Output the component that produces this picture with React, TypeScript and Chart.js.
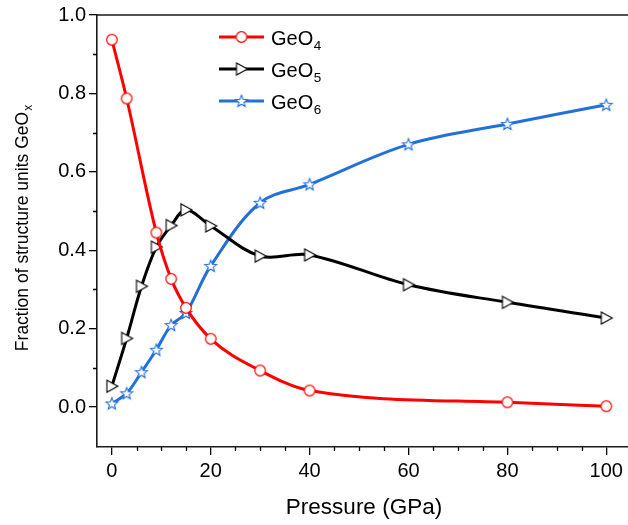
import React, { useEffect, useRef } from "react";
import { Chart, registerables } from "chart.js";

Chart.register(...registerables);

// ---- data ----
const pressureGeO4 = [0, 3, 9, 12, 15, 20, 30, 40, 80, 100];
const fractionGeO4 = [0.937, 0.787, 0.445, 0.327, 0.253, 0.174, 0.093, 0.042, 0.012, 0.002];
const pressureGeO56 = [0, 3, 6, 9, 12, 15, 20, 30, 40, 60, 80, 100];
const fractionGeO5 = [0.053, 0.175, 0.308, 0.408, 0.463, 0.503, 0.462, 0.385, 0.388, 0.312, 0.267, 0.227];
const fractionGeO6 = [0.009, 0.035, 0.089, 0.146, 0.209, 0.24, 0.36, 0.521, 0.568, 0.67, 0.722, 0.771];
const xTickValues = [0, 20, 40, 60, 80, 100];
const xMinorValues = [5, 10, 15, 25, 30, 35, 45, 50, 55, 65, 70, 75, 85, 90, 95];
const yTickValues = [0, 0.2, 0.4, 0.6, 0.8, 1.0];
const yMinorValues = [0.1, 0.3, 0.5, 0.7, 0.9];
const seriesSubscripts = ["4", "5", "6"];
const xTitle = "Pressure (GPa)";
const yTitleMain = "Fraction of structure units GeO";
const yTitleSub = "x";

const RED = "#ff0000";
const BLACK = "#000000";
const BLUE = "#2171d9";
const FONT = "'Liberation Sans', Arial, sans-serif";

function makeCircle(color: string) {
  const c = document.createElement("canvas");
  c.width = 14; c.height = 14;
  const g = c.getContext("2d")!;
  g.beginPath();
  g.arc(7, 7, 5.3, 0, Math.PI * 2);
  g.fillStyle = "#fff"; g.fill();
  g.lineWidth = 1.2; g.strokeStyle = color; g.stroke();
  return c;
}
function makeTriangle(color: string) {
  const c = document.createElement("canvas");
  c.width = 16; c.height = 16;
  const g = c.getContext("2d")!;
  g.beginPath();
  g.moveTo(3, 2); g.lineTo(14, 8); g.lineTo(3, 14); g.closePath();
  g.fillStyle = "#fff"; g.fill();
  g.lineWidth = 1.1; g.strokeStyle = color; g.lineJoin = "miter"; g.stroke();
  return c;
}
function makeStar(color: string) {
  const c = document.createElement("canvas");
  c.width = 16; c.height = 16;
  const g = c.getContext("2d")!;
  const R = 6.2, r = 2.7, cx = 8, cy = 8.5;
  g.beginPath();
  for (let i = 0; i < 10; i++) {
    const a = -Math.PI / 2 + (i * Math.PI) / 5;
    const rad = i % 2 === 0 ? R : r;
    const px = cx + rad * Math.cos(a), py = cy + rad * Math.sin(a);
    if (i === 0) g.moveTo(px, py); else g.lineTo(px, py);
  }
  g.closePath();
  g.fillStyle = "#fff"; g.fill();
  g.lineWidth = 1.1; g.strokeStyle = color; g.stroke();
  return c;
}

export default function App() {
  const ref = useRef<HTMLCanvasElement | null>(null);

  useEffect(() => {
    if (!ref.current) return;
    const circle = makeCircle(RED);
    const tri = makeTriangle(BLACK);
    const star = makeStar(BLUE);
    const markers = [circle, tri, star];
    const colors = [RED, BLACK, BLUE];

    const decorPlugin = {
      id: "decor",
      afterDraw(chart: any) {
        const ctx = chart.ctx as CanvasRenderingContext2D;
        const xs = chart.scales.x, ys = chart.scales.y;
        const area = chart.chartArea;
        ctx.save();
        // frame top & right
        ctx.strokeStyle = "#1a1a1a";
        ctx.lineWidth = 1.6;
        ctx.beginPath();
        ctx.moveTo(area.left, area.top);
        ctx.lineTo(area.right, area.top);
        ctx.lineTo(area.right, area.bottom);
        ctx.stroke();
        // minor ticks
        ctx.strokeStyle = "#000";
        ctx.lineWidth = 1.3;
        ctx.beginPath();
        xMinorValues.forEach((v) => {
          const px = Math.round(xs.getPixelForValue(v)) + 0.5;
          ctx.moveTo(px, area.bottom);
          ctx.lineTo(px, area.bottom + 4);
        });
        yMinorValues.forEach((v) => {
          const py = Math.round(ys.getPixelForValue(v)) + 0.5;
          ctx.moveTo(area.left, py);
          ctx.lineTo(area.left - 4, py);
        });
        ctx.stroke();
        // x title
        ctx.fillStyle = "#000";
        ctx.font = `22.5px ${FONT}`;
        ctx.textAlign = "center";
        ctx.textBaseline = "alphabetic";
        ctx.fillText(xTitle, (area.left + area.right) / 2, 514);
        // y title with subscript
        ctx.save();
        ctx.translate(28, 228);
        ctx.rotate(-Math.PI / 2);
        ctx.textAlign = "left";
        ctx.font = `17.5px ${FONT}`;
        const wMain = ctx.measureText(yTitleMain).width;
        ctx.font = `12px ${FONT}`;
        const wSub = ctx.measureText(yTitleSub).width;
        const start = -(wMain + wSub + 1) / 2;
        ctx.font = `17.5px ${FONT}`;
        ctx.fillText(yTitleMain, start, 0);
        ctx.font = `12px ${FONT}`;
        ctx.fillText(yTitleSub, start + wMain + 1, 4);
        ctx.restore();
        // legend
        const rowsY = [37, 69, 101];
        rowsY.forEach((ry, i) => {
          ctx.strokeStyle = colors[i];
          ctx.lineWidth = 3;
          ctx.beginPath();
          ctx.moveTo(219, ry);
          ctx.lineTo(264, ry);
          ctx.stroke();
          const m = markers[i];
          ctx.drawImage(m, 241.5 - m.width / 2, ry - m.height / 2);
          ctx.fillStyle = "#000";
          ctx.textAlign = "left";
          ctx.font = `20px ${FONT}`;
          ctx.fillText("GeO", 271, ry + 7.5);
          const w = ctx.measureText("GeO").width;
          ctx.font = `13.5px ${FONT}`;
          ctx.fillText(seriesSubscripts[i], 271 + w + 0.5, ry + 12.5);
        });
        ctx.restore();
      },
    };

    const toPts = (xs: number[], ys: number[]) => xs.map((x, i) => ({ x, y: ys[i] }));

    const chart = new Chart(ref.current, {
      type: "line",
      data: {
        datasets: [
          {
            label: "GeO4",
            data: toPts(pressureGeO4, fractionGeO4),
            borderColor: RED,
            borderWidth: 3,
            pointStyle: circle as any,
            pointRadius: 6,
            cubicInterpolationMode: "monotone",
          },
          {
            label: "GeO5",
            data: toPts(pressureGeO56, fractionGeO5),
            borderColor: BLACK,
            borderWidth: 3,
            pointStyle: tri as any,
            pointRadius: 6,
            tension: 0.35,
          },
          {
            label: "GeO6",
            data: toPts(pressureGeO56, fractionGeO6),
            borderColor: BLUE,
            borderWidth: 3,
            pointStyle: star as any,
            pointRadius: 6,
            tension: 0.35,
          },
        ],
      },
      options: {
        animation: false,
        responsive: false,
        devicePixelRatio: 1,
        layout: { padding: { top: 15, right: 7, left: 0, bottom: 0 } },
        plugins: { legend: { display: false }, tooltip: { enabled: false } },
        scales: {
          x: {
            type: "linear",
            min: -3,
            max: 105,
            afterFit: (s: any) => { s.height = 78; },
            afterBuildTicks: (s: any) => { s.ticks = xTickValues.map((v) => ({ value: v })); },
            ticks: {
              font: { family: FONT, size: 20 },
              color: "#000",
              padding: 4,
              maxRotation: 0,
              autoSkip: false,
              callback: (v: any) => String(v),
            },
            grid: { display: true, drawOnChartArea: false, drawTicks: true, tickLength: 8, color: "#000", lineWidth: 1.3 },
            border: { display: true, color: "#1a1a1a", width: 1.6 },
          },
          y: {
            type: "linear",
            min: -0.102,
            max: 1.0,
            afterFit: (s: any) => { s.width = 97; },
            afterBuildTicks: (s: any) => { s.ticks = yTickValues.map((v) => ({ value: v })); },
            ticks: {
              font: { family: FONT, size: 20 },
              color: "#000",
              padding: 3,
              autoSkip: false,
              callback: (v: any) => Number(v).toFixed(1),
            },
            grid: { display: true, drawOnChartArea: false, drawTicks: true, tickLength: 8, color: "#000", lineWidth: 1.3 },
            border: { display: true, color: "#1a1a1a", width: 1.6 },
          },
        },
      } as any,
      plugins: [decorPlugin],
    });
    return () => chart.destroy();
  }, []);

  return (
    <div style={{ position: "fixed", left: 0, top: 0, width: 628, height: 525, overflow: "hidden", background: "#fff" }}>
      <canvas ref={ref} width={640} height={525} style={{ display: "block", width: 640, height: 525 }} />
    </div>
  );
}
